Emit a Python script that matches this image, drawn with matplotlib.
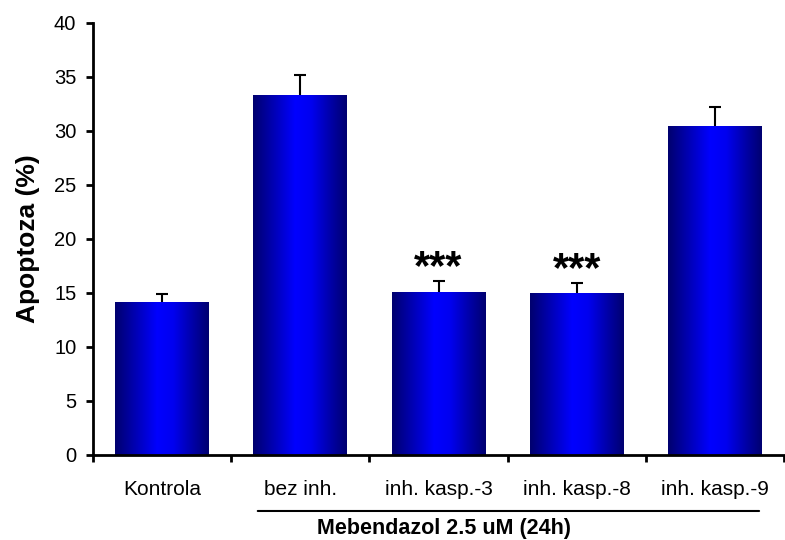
import numpy as np
import matplotlib
matplotlib.use("Agg")
import matplotlib.pyplot as plt
from matplotlib.colors import LinearSegmentedColormap

plt.rcParams['font.family'] = ['Liberation Sans', 'DejaVu Sans']

categories = ["Kontrola", "bez inh.", "inh. kasp.-3", "inh. kasp.-8", "inh. kasp.-9"]
values = [14.2, 33.3, 15.1, 15.0, 30.5]
errors = [0.7, 1.85, 1.0, 0.9, 1.7]
significance = ["", "", "***", "***", ""]
group_label = "Mebendazol 2.5 uM (24h)"

fig = plt.figure(figsize=(7.85, 5.4), dpi=100)
ax = fig.add_axes([93 / 785, 85 / 540, 691 / 785, 432 / 540])

x = np.arange(len(categories))
bars = ax.bar(x, values, width=0.68, facecolor='none', edgecolor='none', zorder=2)

# horizontal blue gradient inside each bar: navy edges, bright centre
cmap = LinearSegmentedColormap.from_list(
    "bar_grad",
    [(0.0, "#00006e"), (0.18, "#0000a8"), (0.45, "#0000ff"),
     (0.62, "#0000f0"), (0.85, "#0000a0"), (1.0, "#000070")])
grad = np.linspace(0, 1, 256).reshape(1, -1)
for b in bars:
    x0, y0 = b.get_x(), b.get_y()
    w, h = b.get_width(), b.get_height()
    im = ax.imshow(grad, cmap=cmap, aspect='auto', extent=[x0, x0 + w, y0, y0 + h],
                   interpolation='bilinear', zorder=2)
    im.set_clip_path(b)

# upper-only error bars
_, caps, _ = ax.errorbar(x, values, yerr=[np.zeros(len(errors)), errors], fmt='none',
                         ecolor='black', elinewidth=1.5, capsize=4.3, capthick=1.5,
                         zorder=3)
for c in caps:
    if np.allclose(c.get_ydata(), values):
        c.set_visible(False)

for xi, v, e, s in zip(x, values, errors, significance):
    if s:
        ax.text(xi, v + e + 0.2, s, ha='center', va='baseline', fontsize=30,
                fontweight='bold', zorder=4)

ax.set_xlim(-0.5, len(categories) - 0.5)
ax.set_ylim(0, 40)
ax.set_yticks(np.arange(0, 41, 5))
ax.set_xticks(np.arange(-0.5, len(categories), 1.0))
ax.set_xticklabels([])
ax.set_xticks(x, minor=True)
ax.set_xticklabels(categories, minor=True)
ax.tick_params(axis='x', which='minor', length=0, pad=18, labelsize=15)
ax.tick_params(axis='x', which='major', direction='out', length=5, width=2)
ax.tick_params(axis='y', direction='out', length=5, width=2, labelsize=14.5, pad=7)

for side in ['top', 'right']:
    ax.spines[side].set_visible(False)
for side in ['left', 'bottom']:
    ax.spines[side].set_linewidth(2)

ax.set_ylabel("Apoptoza (%)", fontsize=19, fontweight='bold', labelpad=10)

# bracket line and label under the treated groups
ax.annotate('', xy=(0.672, -0.1296), xytext=(4.34, -0.1296),
            xycoords=('data', 'axes fraction'), textcoords=('data', 'axes fraction'),
            arrowprops=dict(arrowstyle='-', lw=1.5, color='black'),
            annotation_clip=False)
ax.text(2.04, -0.17, group_label, transform=ax.get_xaxis_transform(),
        ha='center', va='center', fontsize=15.5, fontweight='bold')

fig.savefig("out.png", dpi=100)
